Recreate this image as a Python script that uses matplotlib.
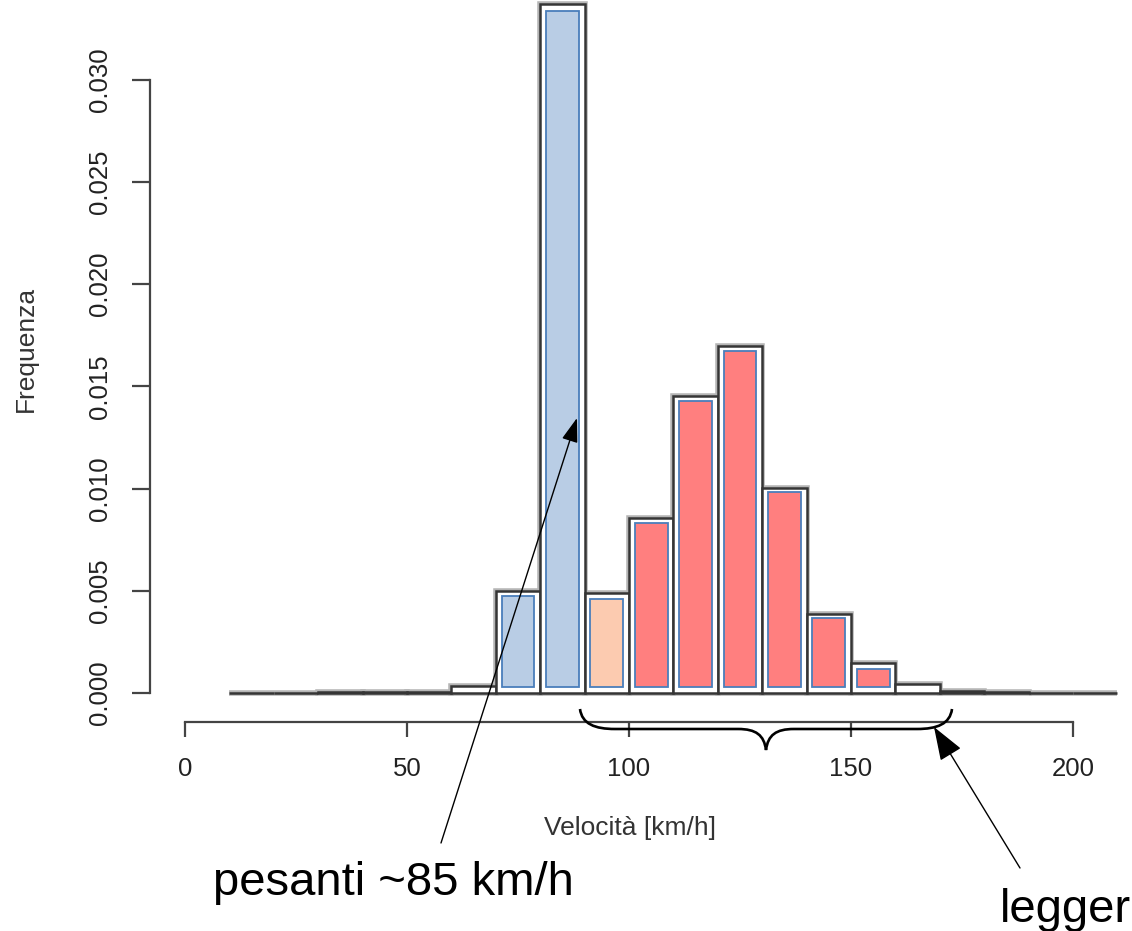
import numpy as np
import matplotlib
matplotlib.use("Agg")
import matplotlib.pyplot as plt
from matplotlib.path import Path
from matplotlib.patches import PathPatch
from matplotlib.transforms import Affine2D

plt.rcParams['font.family'] = ['Liberation Sans', 'DejaVu Sans']

# ---------------- data ----------------
bin_left = [10, 20, 30, 40, 50, 60, 70, 80, 90, 100, 110, 120, 130, 140,
            150, 160, 170, 180, 190, 200]
density_all = [0.00002, 0.00002, 0.00003, 0.00004, 0.00006, 0.00034, 0.0050,
               0.0337, 0.0049, 0.00858, 0.01451, 0.01696, 0.01005, 0.00387,
               0.00147, 0.00044, 0.00012, 0.00005, 0.00002, 0.00001]

group_left = [70, 80, 90, 100, 110, 120, 130, 140, 150]
group_top = [0.00475, 0.03338, 0.0046, 0.00833, 0.01431, 0.01672, 0.00985,
             0.00368, 0.00118]
group_class = ['pesanti', 'pesanti', 'misti', 'leggeri', 'leggeri', 'leggeri',
               'leggeri', 'leggeri', 'leggeri']
class_colors = {'pesanti': '#b9cde5', 'misti': '#fccbb0', 'leggeri': '#ff7f7f'}

x_ticks = [0, 50, 100, 150, 200]
y_ticks = [0.000, 0.005, 0.010, 0.015, 0.020, 0.025, 0.030]
y_tick_labels = ['0.000', '0.005', '0.010', '0.015', '0.020', '0.025', '0.030']

BIN_W = 10
INNER_W = 7.4
INNER_BOTTOM = 0.0003

W, H = 1132, 931
fig = plt.figure(figsize=(W / 100, H / 100), dpi=100)

# axes: pixel left 150 .. right 1132, top 0 .. bottom 722
ax = fig.add_axes([150 / W, (H - 722) / H, (W - 150) / W, 722 / H])
px_per_unit = (1073 - 185) / 200.0
ax.set_xlim((150 - 185) / px_per_unit, (W - 185) / px_per_unit)
py_per_val = 102.2 / 0.005
ax.set_ylim(-(722 - 693) / py_per_val, 693 / py_per_val)

# outer histogram (blurred dark outline look)
ax.bar(bin_left, density_all, width=BIN_W, align='edge', color='white',
       edgecolor='#b5b5b5', linewidth=4.0, zorder=2)
ax.bar(bin_left, density_all, width=BIN_W, align='edge', color='white',
       edgecolor='#353535', linewidth=1.8, zorder=3)

# inner coloured bars
centers = [l + BIN_W / 2 for l in group_left]
heights = [t - INNER_BOTTOM for t in group_top]
ax.bar(centers, heights, width=INNER_W, bottom=INNER_BOTTOM, align='center',
       color=[class_colors[c] for c in group_class], edgecolor='#4a7ebb',
       linewidth=1.3, zorder=4)

# axes styling (R-like)
for s in ['top', 'right']:
    ax.spines[s].set_visible(False)
ax.spines['left'].set_bounds(0, 0.03)
ax.spines['bottom'].set_bounds(0, 200)
for s in ['left', 'bottom']:
    ax.spines[s].set_color('#444444')
    ax.spines[s].set_linewidth(1.6)

ax.set_xticks(x_ticks)
ax.set_xticklabels([str(v) for v in x_ticks])
ax.set_yticks(y_ticks)
ax.set_yticklabels(y_tick_labels)
ax.tick_params(axis='x', direction='out', length=11, width=1.6, color='#444444',
               pad=14, labelsize=18.5, labelcolor='#222222')
ax.tick_params(axis='y', direction='out', length=13, width=1.6, color='#444444',
               pad=14, labelsize=18.5, labelcolor='#222222', labelrotation=90)
for lab in ax.get_yticklabels():
    lab.set_va('center')

ax.set_xlabel('Velocità [km/h]', fontsize=19, color='#333333')
ax.xaxis.label.set_va('center')
ax.xaxis.set_label_coords((630 - 150) / (W - 150), (722 - 828) / 722)
ax.set_ylabel('Frequenza', fontsize=19, color='#333333')
ax.yaxis.label.set_ha('center')
ax.yaxis.label.set_va('center')
ax.yaxis.set_label_coords((26 - 150) / (W - 150), (722 - 349) / 722)

# ---------------- annotations ----------------
def px2data(px, py):
    return ((px - 185) / px_per_unit, (693 - py) / py_per_val)

ax.annotate('', xy=px2data(577, 418), xytext=px2data(441, 843),
            xycoords='data', textcoords='data', annotation_clip=False,
            zorder=20,
            arrowprops=dict(arrowstyle='-|>,head_length=0.75,head_width=0.25',
                            mutation_scale=20, lw=1.0, color='black',
                            shrinkA=0, shrinkB=0))
ax.annotate('', xy=px2data(934, 727), xytext=px2data(1020, 868),
            xycoords='data', textcoords='data', annotation_clip=False,
            zorder=20,
            arrowprops=dict(arrowstyle='-|>,head_length=1.05,head_width=0.38',
                            mutation_scale=20, lw=1.0, color='black',
                            shrinkA=0, shrinkB=0))

fig.text(213 / W, 1 - 895 / H, 'pesanti ~85 km/h', fontsize=34,
         ha='left', va='baseline', color='black')
fig.text(1000 / W, 1 - 922 / H, 'legger', fontsize=34,
         ha='left', va='baseline', color='black')

# curly brace (pixel coordinates)
pix = Affine2D().scale(1 / W, -1 / H).translate(0, 1) + fig.transFigure
verts = [(580, 709), (582, 724), (595, 729), (615, 729),
         (738, 729),
         (756, 729), (764, 735), (766, 750),
         (768, 735), (776, 729), (794, 729),
         (917, 729),
         (937, 729), (950, 724), (952, 709)]
codes = [Path.MOVETO, Path.CURVE4, Path.CURVE4, Path.CURVE4,
         Path.LINETO,
         Path.CURVE4, Path.CURVE4, Path.CURVE4,
         Path.CURVE4, Path.CURVE4, Path.CURVE4,
         Path.LINETO,
         Path.CURVE4, Path.CURVE4, Path.CURVE4]
brace = PathPatch(Path(verts, codes), transform=pix, fill=False,
                  edgecolor='black', linewidth=1.9, zorder=10, clip_on=False)
fig.add_artist(brace)

fig.savefig('out.png', dpi=100)
